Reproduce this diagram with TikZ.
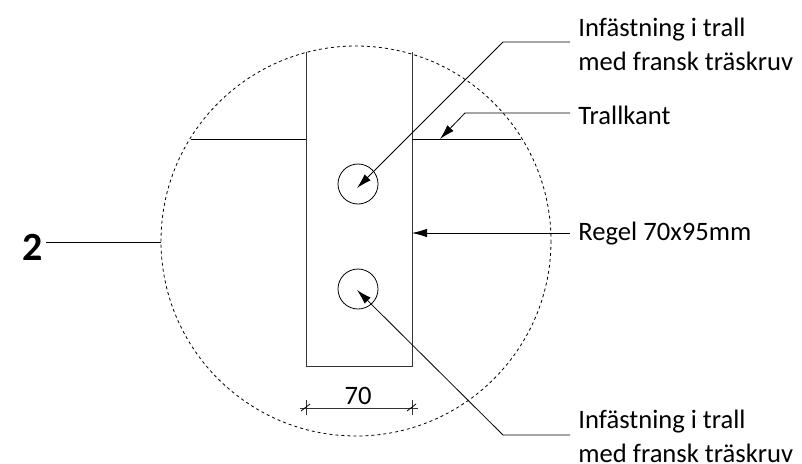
\documentclass[tikz,border=0pt]{standalone}
\usepackage{fontspec}
\setmainfont{Carlito}
\usetikzlibrary{arrows.meta}
\tikzset{leader/.style={-{Latex[length=15pt,width=8.5pt]},line width=0.8pt},
 lbl/.style={anchor=west,align=left,font=\fontsize{26.6}{34}\selectfont,inner sep=0pt}}
\begin{document}
\begin{tikzpicture}[x=1pt,y=-1pt,line width=0.8pt]
 \useasboundingbox (0,0) rectangle (802,463);
 \draw[dash pattern=on 3pt off 3pt,line width=0.8pt] (356,241) circle (195);
 \draw[line width=1pt,black!80] (306,52) -- (306,366) -- (412,366) -- (412,52);
 \draw[line width=1pt] (191,139) -- (306,139);
 \draw[line width=1pt] (412,139) -- (521,139);
 \node[circle,draw,minimum size=40pt,inner sep=0pt] (hole1) at (358,184) {};
 \node[circle,draw,minimum size=40pt,inner sep=0pt] (hole2) at (358,289) {};

 \node[lbl] (fast1) at (578,44) {Infästning i trall\\med fransk träskruv};
 \node[lbl] (kant) at (578,115) {Trallkant};
 \node[lbl] (regel) at (578,234) {Regel 70x95mm};
 \node[lbl] (fast2) at (578,436) {Infästning i trall\\med fransk träskruv};
 \node[inner sep=0pt,font=\fontsize{40}{40}\selectfont\bfseries] (nr) at (33,247) {2};

 \coordinate (a1) at (357,188);
 \coordinate (a2) at (357,290);
 \coordinate (a3) at (440,139);
 \draw[leader] (570,42) -- (503,42) -- (a1);
 \draw[leader] (570,113) -- (465,113) -- (a3);
 \draw[leader] (570,233) -- (412,233);
 \draw[leader] (570,435) -- (503,435) -- (a2);
 \draw (46,242) -- (161,242);

 \node[font=\fontsize{26.6}{30}\selectfont,inner sep=0pt] (dim) at (358,396) {70};
 \coordinate (d1) at (306,408);
 \coordinate (d2) at (412,408);
 \draw[line width=1pt,black!80] (300,408) -- (418,408);
 \foreach \p in {d1,d2} {
  \draw[line width=1pt,black!80] (\p) ++(0,-8) -- ++(0,15);
  \draw (\p) ++(-5,3) -- ++(9,-7);
 }
\end{tikzpicture}
\end{document}
